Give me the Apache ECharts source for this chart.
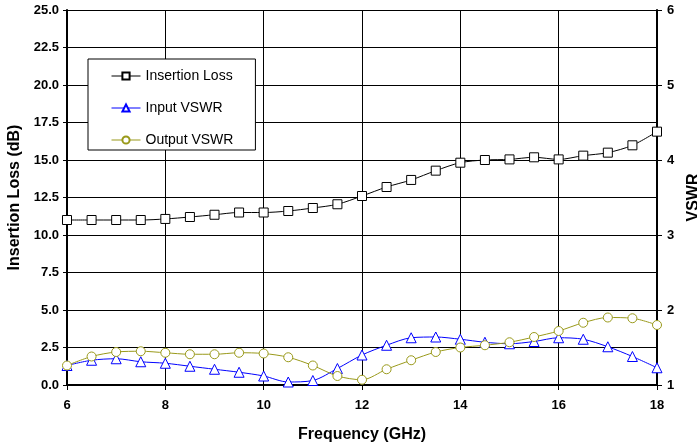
<!DOCTYPE html>
<html>
<head>
<meta charset="utf-8">
<script src="https://cdn.jsdelivr.net/npm/echarts@6/dist/echarts.min.js"></script>
<style>
html, body { margin: 0; padding: 0; background: #fff; }
#chart { width: 697px; height: 447px; }
</style>
</head>
<body>
<div id="chart"></div>
<script>
// frequency points (GHz)
var freq = [6, 6.5, 7, 7.5, 8, 8.5, 9, 9.5, 10, 10.5, 11, 11.5, 12, 12.5, 13, 13.5, 14, 14.5, 15, 15.5, 16, 16.5, 17, 17.5, 18];
// insertion loss (dB), left axis
var insLoss = [11.0, 11.0, 11.0, 11.0, 11.07, 11.2, 11.35, 11.5, 11.5, 11.6, 11.8, 12.05, 12.6, 13.2, 13.67, 14.29, 14.82, 15.0, 15.04, 15.18, 15.04, 15.29, 15.49, 15.98, 16.89];
// VSWR, right axis
var inVswr = [1.26, 1.33, 1.35, 1.31, 1.29, 1.25, 1.21, 1.17, 1.12, 1.04, 1.06, 1.22, 1.40, 1.53, 1.63, 1.64, 1.61, 1.57, 1.55, 1.58, 1.63, 1.61, 1.51, 1.38, 1.23];
var outVswr = [1.26, 1.38, 1.44, 1.45, 1.43, 1.41, 1.41, 1.43, 1.42, 1.37, 1.26, 1.12, 1.07, 1.21, 1.33, 1.44, 1.50, 1.53, 1.57, 1.64, 1.72, 1.83, 1.90, 1.89, 1.80];

function pairs(ys) {
    var res = [];
    for (var i = 0; i < freq.length; i++) {
        res.push([freq[i], ys[i]]);
    }
    return res;
}

var myChart = echarts.init(document.getElementById('chart'));
var font = 'Liberation Sans, Arial, sans-serif';

var option = {
    animation: false,
    textStyle: { fontFamily: font },
    grid: { left: 67, right: 40, top: 10, bottom: 62, outerBoundsMode: 'none' },
    legend: {
        orient: 'vertical',
        left: 88,
        top: 59,
        padding: [10, 22, 3, 23],
        itemGap: 18,
        itemWidth: 29,
        itemHeight: 9,
        backgroundColor: '#fff',
        borderColor: '#000',
        borderWidth: 1,
        lineStyle: { width: 1 },
        textStyle: { fontFamily: font, fontSize: 14, color: '#000' },
        data: ['Insertion Loss', 'Input VSWR', 'Output VSWR']
    },
    xAxis: {
        type: 'value',
        min: 6,
        max: 18,
        interval: 2,
        name: 'Frequency (GHz)',
        nameLocation: 'middle',
        nameGap: 42,
        nameTextStyle: { fontWeight: 'bold', fontSize: 16, color: '#000' },
        axisLine: { lineStyle: { color: '#000', width: 2 } },
        axisTick: { show: true, length: 5, lineStyle: { color: '#000' } },
        axisLabel: { margin: 14, fontWeight: 'bold', fontSize: 13, color: '#000' },
        splitLine: { show: true, lineStyle: { color: '#000', width: 1 } }
    },
    yAxis: [{
        type: 'value',
        min: 0,
        max: 25,
        interval: 2.5,
        name: 'Insertion Loss (dB)',
        nameLocation: 'middle',
        nameGap: 42,
        nameRotate: 90,
        nameTextStyle: { fontWeight: 'bold', fontSize: 16, color: '#000' },
        axisLine: { show: true, lineStyle: { color: '#000', width: 2 } },
        axisTick: { show: true, length: 4, lineStyle: { color: '#000' } },
        axisLabel: {
            margin: 8, fontWeight: 'bold', fontSize: 13, color: '#000',
            formatter: function (v) { return v.toFixed(1); }
        },
        splitLine: { show: true, lineStyle: { color: '#000', width: 1 } }
    }, {
        type: 'value',
        min: 1,
        max: 6,
        interval: 1,
        position: 'right',
        name: 'VSWR',
        nameLocation: 'middle',
        nameGap: 29,
        nameRotate: 90,
        nameTextStyle: { fontWeight: 'bold', fontSize: 16, color: '#000' },
        axisLine: { show: true, lineStyle: { color: '#000', width: 2 } },
        axisTick: { show: true, length: 5, lineStyle: { color: '#000' } },
        axisLabel: { margin: 10, fontWeight: 'bold', fontSize: 13, color: '#000' },
        splitLine: { show: false }
    }],
    series: [{
        name: 'Insertion Loss',
        type: 'line',
        yAxisIndex: 0,
        smooth: 0.3,
        symbol: 'rect',
        symbolSize: 9,
        lineStyle: { color: '#000', width: 1 },
        itemStyle: { color: '#fff', borderColor: '#000', borderWidth: 1 },
        data: pairs(insLoss)
    }, {
        name: 'Input VSWR',
        type: 'line',
        yAxisIndex: 1,
        smooth: 0.3,
        symbol: 'triangle',
        symbolSize: 10,
        lineStyle: { color: '#0000ff', width: 1 },
        itemStyle: { color: '#fff', borderColor: '#0000ff', borderWidth: 1 },
        data: pairs(inVswr)
    }, {
        name: 'Output VSWR',
        type: 'line',
        yAxisIndex: 1,
        smooth: 0.3,
        symbol: 'circle',
        symbolSize: 9,
        lineStyle: { color: '#99991a', width: 1 },
        itemStyle: { color: '#fff', borderColor: '#99991a', borderWidth: 1 },
        data: pairs(outVswr)
    }]
};
myChart.setOption(option);
</script>
</body>
</html>
